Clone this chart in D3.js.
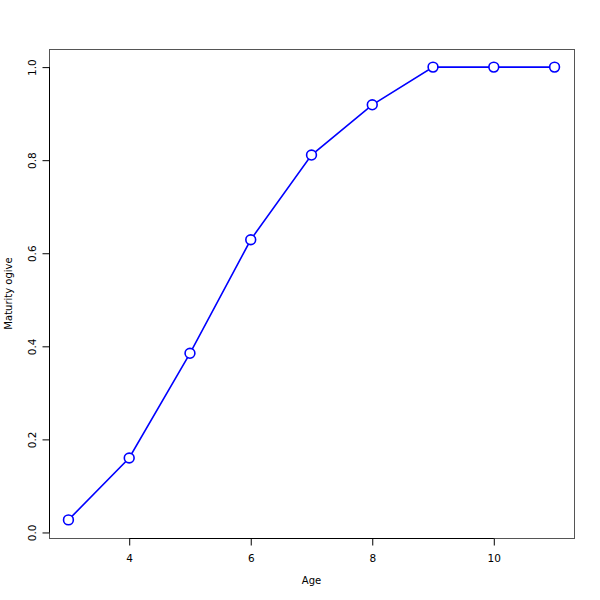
<!DOCTYPE html>
<html><head><meta charset="utf-8">
<script src="https://cdn.jsdelivr.net/npm/d3@7"></script>
<style>body{margin:0;background:#fff}svg{display:block}text{font-family:"DejaVu Sans",sans-serif;font-size:10px;fill:#000}</style>
</head><body>
<script>
const ages = [3,4,5,6,7,8,9,10,11];
const maturity = [0.027,0.160,0.385,0.629,0.811,0.919,1.0,1.0,1.0];
const xTicks = [4,6,8,10];
const yTicks = [0,0.2,0.4,0.6,0.8,1.0];
const xLabel = "Age", yLabel = "Maturity ogive";

const W=600,H=600, L=49, R=574, T=49, B=538;
const svg=d3.select("body").append("svg").attr("width",W).attr("height",H);
const xmin=d3.min(ages), xmax=d3.max(ages), ymin=d3.min(maturity), ymax=d3.max(maturity);
const xe=(xmax-xmin)*0.04, ye=(ymax-ymin)*0.04;
const x=d3.scaleLinear().domain([xmin-xe,xmax+xe]).range([L,R]);
const y=d3.scaleLinear().domain([ymin-ye,ymax+ye]).range([B,T]);

// box
svg.append("rect").attr("x",L+0.5).attr("y",T+0.5).attr("width",R-L).attr("height",B-T)
  .attr("fill","none").attr("stroke","#555").attr("stroke-width",1);

// x axis
const xa=svg.append("g").attr("transform",`translate(0,${B+0.5})`)
  .call(d3.axisBottom(x).tickValues(xTicks).tickSize(7).tickPadding(9).tickFormat(d3.format("d")));
xa.select(".domain").attr("d",`M${x(xTicks[0])},0H${x(xTicks[xTicks.length-1])}`).attr("stroke","#000");
xa.selectAll("text").style("font-size","10.5px").attr("font-family",null).attr("fill","#000");
// y axis
const ya=svg.append("g").attr("transform",`translate(${L+0.5},0)`)
  .call(d3.axisLeft(y).tickValues(yTicks).tickSize(7).tickFormat(d3.format(".1f")));
ya.select(".domain").attr("d",`M0,${y(yTicks[0])}V${y(yTicks[yTicks.length-1])}`).attr("stroke","#000");
ya.selectAll(".tick text").attr("x",null).attr("dy",null).attr("text-anchor","middle")
  .attr("y",0).style("font-size","10.5px").attr("font-family",null).attr("fill","#000")
  .attr("transform","translate(-13.5,0) rotate(-90)");
svg.selectAll(".tick line").attr("stroke","#000");

// labels
svg.append("text").attr("x",(L+R)/2).attr("y",584).attr("text-anchor","middle").text(xLabel);
svg.append("text").attr("transform",`translate(12,${(T+B)/2}) rotate(-90)`).attr("text-anchor","middle").text(yLabel);

// line
const pts=ages.map((a,i)=>[a,maturity[i]]);
svg.append("path").datum(pts).attr("fill","none").attr("stroke","#0000ff").attr("stroke-width",1.6)
  .attr("d",d3.line().x(d=>x(d[0])).y(d=>y(d[1])));
svg.selectAll("circle.pt").data(pts).enter().append("circle").attr("class","pt")
  .attr("cx",d=>x(d[0])).attr("cy",d=>y(d[1])).attr("r",4.9)
  .attr("fill","#fff").attr("stroke","#0000ff").attr("stroke-width",1.6);
</script>
</body></html>
